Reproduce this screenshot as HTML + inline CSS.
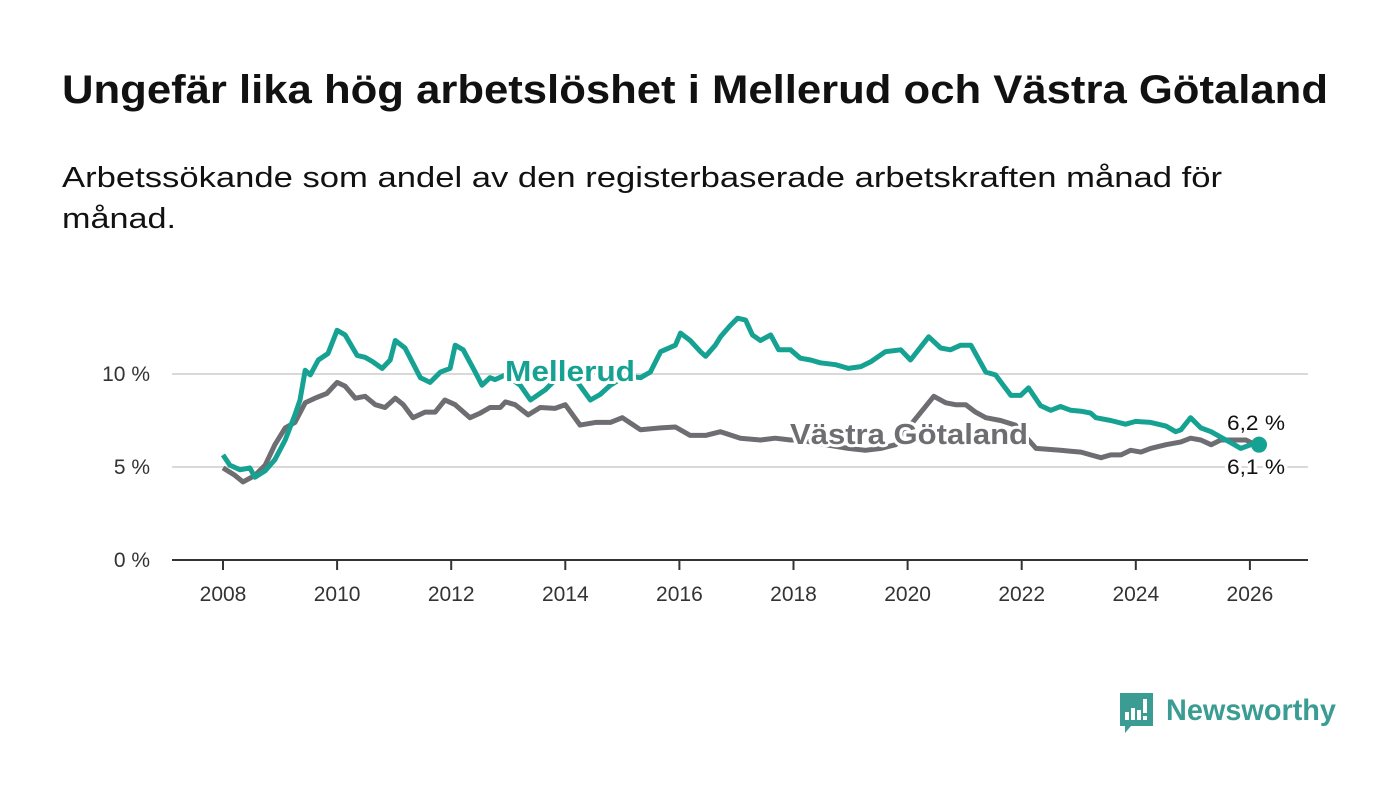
<!DOCTYPE html>
<html><head><meta charset="utf-8"><style>
html,body{margin:0;padding:0;background:#fff}
svg{display:block}
text{font-family:"Liberation Sans",sans-serif}
</style></head><body>
<svg id="chart" width="1400" height="794" viewBox="0 0 1400 794">
<text x="62" y="103" font-size="40" font-weight="bold" fill="#111" textLength="1266" lengthAdjust="spacingAndGlyphs">Ungefär lika hög arbetslöshet i Mellerud och Västra Götaland</text>
<text x="62" y="187" font-size="29" fill="#111" textLength="1160" lengthAdjust="spacingAndGlyphs">Arbetssökande som andel av den registerbaserade arbetskraften månad för</text>
<text x="62" y="228" font-size="29" fill="#111" textLength="114" lengthAdjust="spacingAndGlyphs">månad.</text>
<g id="grid"></g><g id="xaxis"></g><g id="lines"></g><g id="labels"></g>
<g>
<path d="M1120 693h33v33h-22l-6 7v-7h-5z" fill="#3a9c93"/>
<rect x="1125" y="712" width="4" height="8" fill="#fff"/><rect x="1131" y="708" width="4" height="12" fill="#fff"/><rect x="1137" y="710" width="4" height="10" fill="#fff"/><rect x="1143" y="699" width="4" height="14" fill="#fff"/><rect x="1143" y="716" width="4" height="4" fill="#fff"/>
<text x="1166" y="720" font-size="30" font-weight="bold" fill="#3a9c93" textLength="170" lengthAdjust="spacingAndGlyphs">Newsworthy</text>
</g>
</svg>
<script>
const yTicks=[0,5,10];
const yTickLabels=["0 %","5 %","10 %"];
const xTicks=[2008,2010,2012,2014,2016,2018,2020,2022,2024,2026];
const mellerudDates=[2008.00,2008.12,2008.30,2008.47,2008.56,2008.74,2008.91,2009.09,2009.26,2009.35,2009.44,2009.53,2009.67,2009.84,2010.00,2010.14,2010.35,2010.49,2010.63,2010.79,2010.93,2011.02,2011.19,2011.46,2011.63,2011.81,2011.98,2012.07,2012.21,2012.42,2012.54,2012.68,2012.77,2012.95,2013.21,2013.39,2013.65,2013.91,2014.18,2014.44,2014.61,2014.79,2015.05,2015.32,2015.49,2015.67,2015.93,2016.02,2016.19,2016.37,2016.46,2016.63,2016.72,2016.89,2017.02,2017.16,2017.28,2017.42,2017.60,2017.74,2017.95,2018.12,2018.30,2018.47,2018.74,2018.96,2019.18,2019.35,2019.61,2019.88,2020.05,2020.37,2020.58,2020.75,2020.93,2021.11,2021.37,2021.54,2021.81,2021.98,2022.12,2022.33,2022.51,2022.68,2022.86,2023.04,2023.21,2023.30,2023.56,2023.82,2024.00,2024.26,2024.53,2024.70,2024.79,2024.96,2025.14,2025.32,2025.49,2025.67,2025.84,2026.02,2026.16];
const mellerudValues=[5.65,5.1,4.85,4.95,4.45,4.8,5.4,6.45,7.8,8.6,10.2,9.95,10.75,11.1,12.35,12.1,11.0,10.9,10.65,10.3,10.75,11.8,11.4,9.8,9.55,10.1,10.3,11.55,11.3,10.1,9.4,9.8,9.7,9.95,9.4,8.6,9.15,9.95,9.7,8.6,8.9,9.4,9.9,9.8,10.1,11.2,11.55,12.2,11.8,11.2,10.95,11.55,12.0,12.6,13.0,12.9,12.1,11.8,12.1,11.3,11.3,10.85,10.75,10.6,10.5,10.3,10.4,10.65,11.2,11.3,10.75,12.0,11.4,11.3,11.55,11.55,10.1,9.95,8.85,8.85,9.25,8.3,8.05,8.25,8.05,8.0,7.9,7.65,7.5,7.3,7.45,7.4,7.2,6.9,7.0,7.65,7.1,6.9,6.6,6.3,6.0,6.2,6.2];
const vgDates=[2008.00,2008.21,2008.35,2008.56,2008.74,2008.91,2009.09,2009.26,2009.44,2009.61,2009.82,2010.00,2010.14,2010.32,2010.49,2010.67,2010.84,2011.02,2011.16,2011.33,2011.54,2011.72,2011.89,2012.07,2012.33,2012.51,2012.68,2012.86,2012.95,2013.12,2013.35,2013.56,2013.82,2014.00,2014.26,2014.53,2014.79,2015.00,2015.32,2015.67,2015.93,2016.19,2016.46,2016.72,2017.07,2017.42,2017.68,2017.95,2018.12,2018.56,2018.96,2019.26,2019.53,2019.79,2020.05,2020.46,2020.67,2020.84,2021.02,2021.19,2021.37,2021.63,2021.89,2022.25,2022.68,2022.86,2023.04,2023.21,2023.39,2023.56,2023.74,2023.91,2024.09,2024.26,2024.53,2024.79,2024.96,2025.14,2025.32,2025.49,2025.67,2025.93,2026.16];
const vgValues=[4.95,4.55,4.2,4.55,5.1,6.2,7.1,7.4,8.45,8.7,8.95,9.55,9.35,8.7,8.8,8.35,8.2,8.7,8.35,7.65,7.95,7.95,8.6,8.35,7.65,7.9,8.2,8.2,8.5,8.35,7.8,8.2,8.15,8.35,7.25,7.4,7.4,7.65,7.0,7.1,7.15,6.7,6.7,6.9,6.55,6.45,6.55,6.45,6.45,6.2,6.0,5.9,6.0,6.2,7.25,8.8,8.45,8.35,8.35,7.95,7.65,7.5,7.25,6.0,5.9,5.85,5.8,5.65,5.5,5.65,5.65,5.9,5.8,6.0,6.2,6.35,6.55,6.45,6.2,6.45,6.45,6.45,6.1];
const NS="http://www.w3.org/2000/svg";
const X=v=>223+(v-2008)*57.05;
const Y=v=>560-v*18.6;
function mk(tag,attrs,parent){const e=document.createElementNS(NS,tag);for(const k in attrs)e.setAttribute(k,attrs[k]);document.getElementById(parent).appendChild(e);return e;}
yTicks.forEach((t,i)=>{
  const l=mk('line',{x1:172,x2:1308,y1:Y(t),y2:Y(t),stroke:t===0?'#333':'#d9d9d9','stroke-width':2},'grid');
  
  
  const tx=mk('text',{x:150,y:Y(t)+7,'font-size':21,fill:'#333','text-anchor':'end'},'grid');
  tx.textContent=yTickLabels[i];
  
  
});
xTicks.forEach(t=>{
  const l=mk('line',{x1:X(t),x2:X(t),y1:560,y2:570,stroke:'#333','stroke-width':2},'xaxis');
  
  
  const tx=mk('text',{x:X(t),y:601,'font-size':21,fill:'#333','text-anchor':'middle'},'xaxis');
  tx.textContent=String(t);
  
  
});
function path(d,v){return d.map((x,i)=>(i?'L':'M')+X(x).toFixed(1)+' '+Y(v[i]).toFixed(1)).join('');}
const pv=mk('path',{d:path(vgDates,vgValues),fill:'none',stroke:'#6e6e72','stroke-width':5,'stroke-linejoin':'round'},'lines');


const pm=mk('path',{d:path(mellerudDates,mellerudValues),fill:'none',stroke:'#16a292','stroke-width':5,'stroke-linejoin':'round'},'lines');


const dot=mk('circle',{cx:X(mellerudDates[mellerudDates.length-1]),cy:Y(mellerudValues[mellerudValues.length-1]),r:8,fill:'#16a292'},'lines');


function lab(txt,x,y,size,fill,bold,name,len){
  const t=mk('text',{x:x,y:y,'font-size':size,fill:fill,'font-weight':bold?'bold':'normal',stroke:'#fff','stroke-width':6,'paint-order':'stroke','stroke-linejoin':'round'},'labels');
  if(len){t.setAttribute('textLength',len);t.setAttribute('lengthAdjust','spacingAndGlyphs');}
  t.textContent=txt;
  
  
}
lab('Mellerud',505,381,29,'#16a292',true,'mellerud-label',130);
lab('Västra Götaland',790,444,29,'#6e6e72',true,'vastra-gotaland-label',238);
lab('6,2 %',1227,430,21,'#111',false,'mellerud-end-value',58);
lab('6,1 %',1227,474,21,'#111',false,'vastra-gotaland-end-value',58);
</script>
</body></html>
